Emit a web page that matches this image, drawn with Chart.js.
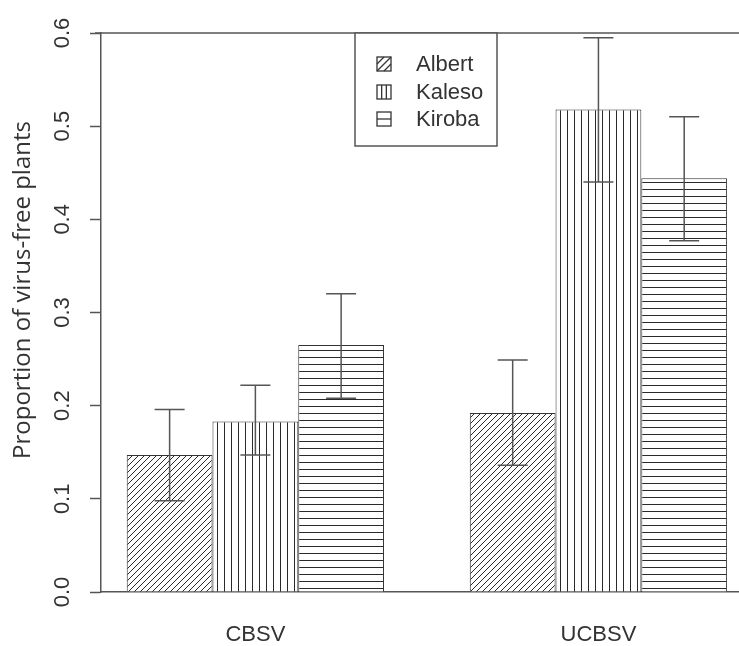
<!DOCTYPE html>
<html><head><meta charset="utf-8">
<script src="https://cdn.jsdelivr.net/npm/chart.js@4/dist/chart.umd.min.js"></script>
<style>html,body{margin:0;padding:0;background:#fff;overflow:hidden}#wrap{width:739px;height:646px;position:relative}</style>
</head><body><div id="wrap"><canvas id="c" width="739" height="646"></canvas></div>
<script>
// ---- data ----
const categories = ['CBSV', 'UCBSV'];
const varieties = ['Albert', 'Kaleso', 'Kiroba'];
const albert = [0.147, 0.192];
const kaleso = [0.183, 0.518];
const kiroba = [0.265, 0.444];
const albertLow = [0.098, 0.136];
const albertHigh = [0.196, 0.249];
const kalesoLow = [0.147, 0.440];
const kalesoHigh = [0.222, 0.595];
const kirobaLow = [0.208, 0.377];
const kirobaHigh = [0.320, 0.510];
const yTicks = [0, 0.1, 0.2, 0.3, 0.4, 0.5, 0.6];
const groupCenters = [2.5, 6.5];
const yTitle = 'Proportion of virus-free plants';

const canvas = document.getElementById('c');
const ctx0 = canvas.getContext('2d');
const INK = '#2a2a2a';
const AX = '#555';

function makePattern(kind) {
  const s = kind === 'diag' ? 6 : 7;
  const c = document.createElement('canvas'); c.width = s; c.height = s;
  const g = c.getContext('2d');
  g.fillStyle = '#fff'; g.fillRect(0, 0, s, s);
  g.strokeStyle = INK; g.lineWidth = 1;
  g.beginPath();
  if (kind === 'diag') {
    g.moveTo(-1, s + 1); g.lineTo(s + 1, -1);
    g.moveTo(-1, 1); g.lineTo(1, -1);
    g.moveTo(s - 1, s + 1); g.lineTo(s + 1, s - 1);
  } else if (kind === 'vert') {
    g.moveTo(0.5, 0); g.lineTo(0.5, s);
  } else {
    g.moveTo(0, 0.5); g.lineTo(s, 0.5);
  }
  g.stroke();
  return ctx0.createPattern(c, 'repeat');
}
const patterns = [makePattern('diag'), makePattern('vert'), makePattern('horiz')];
const kinds = ['diag', 'vert', 'horiz'];
const values = [albert, kaleso, kiroba];
const lows = [albertLow, kalesoLow, kirobaLow];
const highs = [albertHigh, kalesoHigh, kirobaHigh];

const datasets = varieties.map((name, i) => ({
  label: name,
  data: values[i].map((v, j) => ({ x: groupCenters[j], y: v })),
  backgroundColor: patterns[i],
  borderColor: '#333',
  borderWidth: 1,
  categoryPercentage: 0.75,
  barPercentage: 1.0
}));

const errorBars = {
  id: 'errorBars',
  afterDatasetsDraw(chart) {
    const ys = chart.scales.y; const g = chart.ctx;
    g.save(); g.strokeStyle = '#555'; g.lineWidth = 1.5;
    chart.data.datasets.forEach((ds, i) => {
      const meta = chart.getDatasetMeta(i);
      meta.data.forEach((bar, j) => {
        const x = bar.x, y1 = ys.getPixelForValue(lows[i][j]), y2 = ys.getPixelForValue(highs[i][j]);
        g.beginPath();
        g.moveTo(x, y1); g.lineTo(x, y2);
        g.moveTo(x - 15, y1); g.lineTo(x + 15, y1);
        g.moveTo(x - 15, y2); g.lineTo(x + 15, y2);
        g.stroke();
      });
    });
    g.restore();
  }
};

const frame = {
  id: 'frame',
  afterDraw(chart) {
    const g = chart.ctx; const ys = chart.scales.y; const a = chart.chartArea;
    const yTop = ys.getPixelForValue(0.6);
    g.save();
    g.strokeStyle = AX; g.lineWidth = 1.5;
    g.beginPath(); g.moveTo(a.left - 6, yTop); g.lineTo(chart.width, yTop); g.stroke();
    // legend
    const L = 355, R = 497, T = yTop, B = 146;
    g.fillStyle = '#fff'; g.fillRect(L, T, R - L, B - T);
    g.strokeStyle = AX; g.lineWidth = 1.5;
    g.strokeRect(L, T, R - L, B - T);
    const rows = [64, 92, 119];
    g.font = '22px "Liberation Sans", Arial, sans-serif';
    g.textBaseline = 'middle'; g.textAlign = 'left';
    chart.data.datasets.forEach((ds, i) => {
      const cy = rows[i], sx = 377, sy = cy - 7, s = 14;
      g.strokeStyle = '#333'; g.lineWidth = 1.3;
      g.strokeRect(sx, sy, s, s);
      g.beginPath();
      if (kinds[i] === 'diag') {
        g.moveTo(sx, sy + s * 0.5); g.lineTo(sx + s * 0.5, sy);
        g.moveTo(sx + s * 0.5, sy + s); g.lineTo(sx + s, sy + s * 0.5);
        g.moveTo(sx, sy + s); g.lineTo(sx + s, sy);
      } else if (kinds[i] === 'vert') {
        g.moveTo(sx + s / 3, sy); g.lineTo(sx + s / 3, sy + s);
        g.moveTo(sx + 2 * s / 3, sy); g.lineTo(sx + 2 * s / 3, sy + s);
      } else {
        g.moveTo(sx, sy + s / 2); g.lineTo(sx + s, sy + s / 2);
      }
      g.stroke();
      g.fillStyle = '#333';
      g.fillText(ds.label, 416, cy + 1);
    });
    // y title
    g.save();
    g.translate(23, 290); g.rotate(-Math.PI / 2);
    g.font = '24px "Open Sans", sans-serif';
    g.textAlign = 'center'; g.textBaseline = 'middle'; g.fillStyle = '#333';
    g.fillText(yTitle, 0, 0);
    g.restore();
    g.restore();
  }
};

new Chart(canvas, {
  type: 'bar',
  data: { datasets },
  options: {
    responsive: false,
    animation: false,
    devicePixelRatio: 1,
    layout: { padding: { top: 33, right: 0, left: 0, bottom: 0 } },
    plugins: { legend: { display: false }, tooltip: { enabled: false } },
    scales: {
      x: {
        type: 'linear', offset: false, min: 0.70, max: 8.139,
        afterBuildTicks: (s) => { s.ticks = groupCenters.map(v => ({ value: v })); },
        afterFit: (s) => { s.height = 54; },
        grid: { display: false, drawTicks: false },
        border: { display: true, color: AX, width: 1.5 },
        ticks: {
          callback: (v) => categories[groupCenters.indexOf(v)],
          color: '#333', padding: 30, maxRotation: 0, autoSkip: false,
          font: { family: '"Liberation Sans", Arial, sans-serif', size: 22 }
        }
      },
      y: {
        min: 0, max: 0.6,
        afterBuildTicks: (s) => { s.ticks = yTicks.map(v => ({ value: v })); },
        afterFit: (s) => { s.width = 101; },
        grid: { drawOnChartArea: false, drawTicks: true, tickLength: 11, tickColor: AX, tickWidth: 1.5 },
        border: { display: true, color: AX, width: 1.5 },
        ticks: {
          callback: (v) => v.toFixed(1),
          minRotation: 90, maxRotation: 90, crossAlign: 'center', padding: 12,
          color: '#333',
          font: { family: '"Liberation Sans", Arial, sans-serif', size: 22 }
        }
      }
    }
  },
  plugins: [errorBars, frame]
});
</script></body></html>
